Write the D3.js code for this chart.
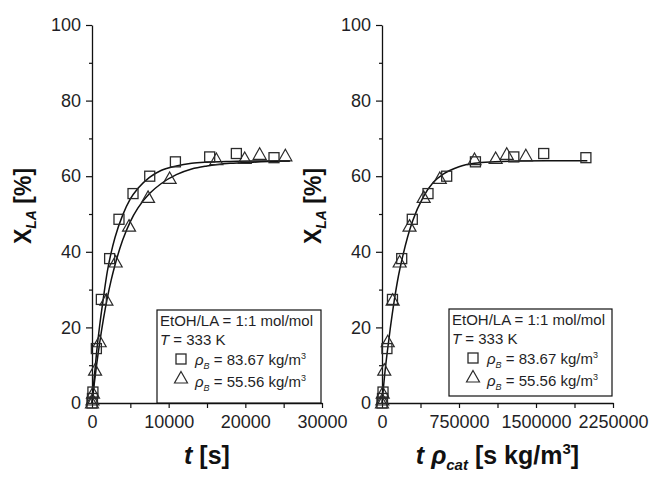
<!DOCTYPE html>
<html><head><meta charset="utf-8">
<script src="https://cdn.jsdelivr.net/npm/d3@7"></script>
<style>
body{margin:0;background:#fff;}
text{font-family:"Liberation Sans",Arial,sans-serif;}
</style></head>
<body><svg id="c" width="651" height="479"></svg>
<script>
// ---------- data ----------
const yTicks = [0, 20, 40, 60, 80, 100];
const yMinor = [10, 30, 50, 70, 90];
const leftXTicks = [0, 10000, 20000, 30000];
const leftXMinor = [5000, 15000, 25000];
const rightXTicks = [0, 750000, 1500000, 2250000];
const rightXMinor = [375000, 1125000, 1875000];

// left panel: t [s]
const sqT  = [0, 60, 120, 570, 1220, 2300, 3520, 5350, 7530, 10880, 15350, 18830, 23740];
const sqX  = [0, 1.2, 2.9, 14.4, 27.4, 38.2, 48.6, 55.4, 60.0, 63.8, 65.1, 66.0, 64.9];
const triT = [0, 60, 130, 400, 1000, 1880, 3090, 4830, 7310, 10130, 16220, 19920, 21870, 25220];
const triX = [0, 0.8, 2.6, 8.7, 16.2, 27.2, 37.3, 46.8, 54.4, 59.4, 64.4, 64.7, 65.8, 65.4];
// fitted curves (left)
const fitSqT  = [0, 300, 600, 1000, 1500, 2000, 2500, 3000, 4000, 5000, 6000, 7500, 9000, 11000, 13000, 15000, 18000, 21000, 25800];
const fitSqX  = [0, 6.9, 13.4, 20.5, 28.0, 34.8, 39.8, 43.8, 49.7, 54.0, 56.8, 59.7, 61.5, 62.7, 63.4, 63.7, 63.9, 64.0, 64.0];
const fitTriT = [0, 300, 600, 1000, 1500, 2000, 2500, 3000, 4000, 5000, 6000, 7500, 9000, 11000, 13000, 15000, 18000, 21000, 25800];
const fitTriX = [0, 5.2, 10.1, 15.9, 22.3, 27.8, 32.5, 36.5, 43.1, 48.0, 51.6, 55.4, 58.0, 60.4, 61.9, 62.7, 63.4, 63.7, 64.0];

// right panel: t*rho_cat [s kg/m3]
const sqR   = [0, 5000, 10000, 48000, 102000, 192000, 295000, 448000, 630000, 910000, 1284000, 1575000, 1986000];
const sqRX  = [0, 1.2, 2.9, 14.4, 27.4, 38.2, 48.6, 55.4, 60.0, 63.8, 65.1, 66.0, 64.9];
const triR  = [0, 3000, 7000, 22000, 56000, 104000, 172000, 268000, 406000, 563000, 901000, 1107000, 1215000, 1401000];
const triRX = [0, 0.8, 2.6, 8.7, 16.2, 27.2, 37.3, 46.8, 54.4, 59.4, 64.4, 64.7, 65.8, 65.4];
const fitR  = [0, 25000, 50000, 80000, 120000, 160000, 200000, 250000, 300000, 400000, 500000, 600000, 750000, 900000, 1100000, 1300000, 1600000, 2000000];
const fitRX = [0, 7.2, 13.2, 19.6, 27.2, 33.6, 38.6, 44.0, 48.3, 54.4, 58.4, 60.6, 62.5, 63.4, 63.8, 64.0, 64.1, 64.1];

const legendLines = ["EtOH/LA = 1:1 mol/mol", "333 K"];
const legendVals = ["83.67", "55.56"];

// ---------- drawing ----------
const svg = d3.select("#c");
svg.append("rect").attr("width", 651).attr("height", 479).attr("fill", "#fff");

const y = d3.scaleLinear().domain([0, 100]).range([403, 25]);
const xL = d3.scaleLinear().domain([0, 30000]).range([92, 322]);
const xR = d3.scaleLinear().domain([0, 2250000]).range([382, 613]);

const txtCol = "#1f1f26";
const mkCol = "#2a2a2a";

function axes(x, ticks, minor) {
  const x0 = x.range()[0];
  const gy = svg.append("g").attr("transform", `translate(${x0},0)`)
    .call(d3.axisLeft(y).tickValues(yTicks).tickSize(6).tickSizeOuter(0).tickPadding(5).tickFormat(d3.format("d")));
  svg.append("g").attr("transform", `translate(${x0},0)`)
    .call(d3.axisLeft(y).tickValues(yMinor).tickSize(3).tickSizeOuter(0).tickFormat(""))
    .select(".domain").remove();
  const gx = svg.append("g").attr("transform", `translate(0,403)`)
    .call(d3.axisBottom(x).tickValues(ticks).tickSize(5).tickSizeOuter(0).tickPadding(7).tickFormat(d3.format("d")));
  svg.append("g").attr("transform", `translate(0,403)`)
    .call(d3.axisBottom(x).tickValues(minor).tickSize(5).tickSizeOuter(0).tickFormat(""))
    .select(".domain").remove();
  svg.selectAll(".domain").attr("stroke", "#111").attr("stroke-width", 1.3);
  svg.selectAll(".tick line").attr("stroke", "#111").attr("stroke-width", 1.2);
  [gy, gx].forEach(g => g.selectAll("text").attr("font-size", 18).attr("fill", txtCol)
      .attr("font-family", "'Liberation Sans', Arial, sans-serif"));
}

function curve(x, xs, ys) {
  const pts = xs.map((v, i) => [x(v), y(ys[i])]);
  svg.append("path").attr("d", d3.line().curve(d3.curveMonotoneX)(pts))
    .attr("fill", "none").attr("stroke", "#111").attr("stroke-width", 1.5);
}

function squares(x, xs, ys) {
  svg.append("g").selectAll("rect").data(xs).join("rect")
    .attr("x", (d) => x(d) - 5).attr("y", (d, i) => y(ys[i]) - 5)
    .attr("width", 10).attr("height", 10)
    .attr("fill", "none").attr("stroke", mkCol).attr("stroke-width", 1.3);
}
const triPath = (cx, cy) => `M${cx},${cy - 6.5}L${cx + 6.5},${cy + 5}L${cx - 6.5},${cy + 5}Z`;
function triangles(x, xs, ys) {
  svg.append("g").selectAll("path").data(xs).join("path")
    .attr("d", (d, i) => triPath(x(d), y(ys[i])))
    .attr("fill", "none").attr("stroke", mkCol).attr("stroke-width", 1.2);
}

function legend(x0, y0, w, h) {
  svg.append("rect").attr("x", x0).attr("y", y0).attr("width", w).attr("height", h)
    .attr("fill", "#fff").attr("stroke", "#111").attr("stroke-width", 1.2);
  const fs = 15;
  svg.append("text").attr("x", x0 + 3).attr("y", y0 + 16).attr("font-size", fs).attr("fill", txtCol)
    .text(legendLines[0]);
  const t2 = svg.append("text").attr("x", x0 + 3).attr("y", y0 + 35).attr("font-size", fs).attr("fill", txtCol);
  t2.append("tspan").attr("font-style", "italic").text("T");
  t2.append("tspan").text(" = " + legendLines[1]);
  // symbols
  svg.append("rect").attr("x", x0 + 19).attr("y", y0 + 44).attr("width", 10).attr("height", 10)
    .attr("fill", "none").attr("stroke", mkCol).attr("stroke-width", 1.3);
  svg.append("path").attr("d", triPath(x0 + 24, y0 + 68))
    .attr("fill", "none").attr("stroke", mkCol).attr("stroke-width", 1.2);
  legendVals.forEach((v, i) => {
    const t = svg.append("text").attr("x", x0 + 38).attr("y", y0 + 55 + i * 22).attr("font-size", fs).attr("fill", txtCol);
    t.append("tspan").attr("font-style", "italic").text("ρ");
    t.append("tspan").attr("font-style", "italic").attr("font-size", 9).attr("dy", 4).text("B");
    t.append("tspan").attr("dy", -4).text(" = " + v + " kg/m");
    t.append("tspan").attr("font-size", 9).attr("dy", -6).text("3");
  });
}

function yTitle(cx, cy) {
  const t = svg.append("text").attr("transform", `translate(${cx},${cy}) rotate(-90)`)
    .attr("text-anchor", "middle").attr("font-size", 23).attr("font-weight", "bold").attr("fill", "#111");
  t.append("tspan").text("X");
  t.append("tspan").attr("font-size", 14).attr("font-style", "italic").attr("dy", 5).text("LA");
  t.append("tspan").attr("dy", -5).text(" [%]");
}

// left panel
axes(xL, leftXTicks, leftXMinor);
curve(xL, fitSqT, fitSqX);
curve(xL, fitTriT, fitTriX);
squares(xL, sqT, sqX);
triangles(xL, triT, triX);
legend(157, 310, 164, 93);
yTitle(31, 206);
{
  const t = svg.append("text").attr("x", (xL.range()[0] + xL.range()[1]) / 2).attr("y", 464)
    .attr("text-anchor", "middle").attr("font-size", 25).attr("font-weight", "bold").attr("fill", "#111");
  t.append("tspan").attr("font-style", "italic").text("t");
  t.append("tspan").text(" [s]");
}

// right panel
axes(xR, rightXTicks, rightXMinor);
curve(xR, fitR, fitRX);
squares(xR, sqR, sqRX);
triangles(xR, triR, triRX);
legend(449, 309, 163, 87);
yTitle(321, 206);
{
  const t = svg.append("text").attr("x", (xR.range()[0] + xR.range()[1]) / 2).attr("y", 464)
    .attr("text-anchor", "middle").attr("font-size", 25).attr("font-weight", "bold").attr("fill", "#111");
  t.append("tspan").attr("font-style", "italic").text("t ρ");
  t.append("tspan").attr("font-style", "italic").attr("font-size", 15).attr("dy", 6).text("cat");
  t.append("tspan").attr("dy", -6).text(" [s kg/m");
  t.append("tspan").attr("font-size", 15).attr("dy", -10).text("3");
  t.append("tspan").attr("dy", 10).text("]");
}
</script></body></html>
